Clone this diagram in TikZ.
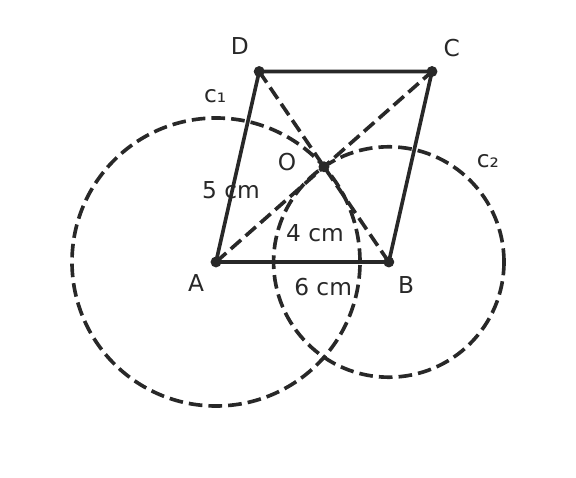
\documentclass[tikz,border=0pt]{standalone}
\usepackage{fontspec}
\setmainfont{DejaVu Sans}
\usetikzlibrary{calc}
\definecolor{ink}{RGB}{40,40,40}

\begin{document}
\begin{tikzpicture}[scale=1,
    edge/.style={draw=ink, line width=3.6pt},
    dashedge/.style={draw=ink, line width=3.6pt, dash pattern=on 13.5pt off 6pt},
    dot/.style={circle, fill=ink, inner sep=0pt, minimum size=0.38cm},
    lbl/.style={text=ink, font=\fontsize{23}{27}\selectfont, inner sep=0pt}]
    % frame of the page
    \useasboundingbox (-7.5,-7.5) rectangle (12.5,9.097);

    % points: AB = 6, AO = 5 (circle c1), BO = 4 (circle c2)
    \coordinate (A) at (0,0);
    \coordinate (B) at (6,0);
    \coordinate (O) at (3.75,3.3072);

    % C and D: O is the midpoint of AC and of BD
    \coordinate (C) at ($(A)!2!(O)$);
    \coordinate (D) at ($(B)!2!(O)$);

    % the two circles
    \draw[dashedge] (A) circle (5);
    \draw[dashedge] (B) circle (4);

    % diagonals AC and BD
    \draw[dashedge] (A) -- (C);
    \draw[dashedge] (B) -- (D);

    % parallelogram ABCD
    \draw[edge] (A) -- (B) -- (C) -- (D) -- cycle;

    % dots at the points
    \node[dot] (dotA) at (A) {};
    \node[dot] (dotB) at (B) {};
    \node[dot] (dotC) at (C) {};
    \node[dot] (dotD) at (D) {};
    \node[dot] (dotO) at (O) {};

    % names of the points
    \node[lbl] (lblA) at (-0.69,-0.73) {A};
    \node[lbl] (lblB) at (6.6,-0.8) {B};
    \node[lbl] (lblC) at (8.19,7.43) {C};
    \node[lbl] (lblD) at (0.83,7.5) {D};
    \node[lbl] (lblO) at (2.47,3.47) {O};

    % names of the circles
    \node[lbl] (lblc1) at (-0.03,5.76) {c₁};
    \node[lbl] (lblc2) at (9.44,3.5) {c₂};

    % lengths
    \node[lbl] (len5) at (0.52,2.5) {5 cm};
    \node[lbl] (len4) at (3.44,1.0) {4 cm};
    \node[lbl] (len6) at (3.72,-0.87) {6 cm};

\end{tikzpicture}
\end{document}
